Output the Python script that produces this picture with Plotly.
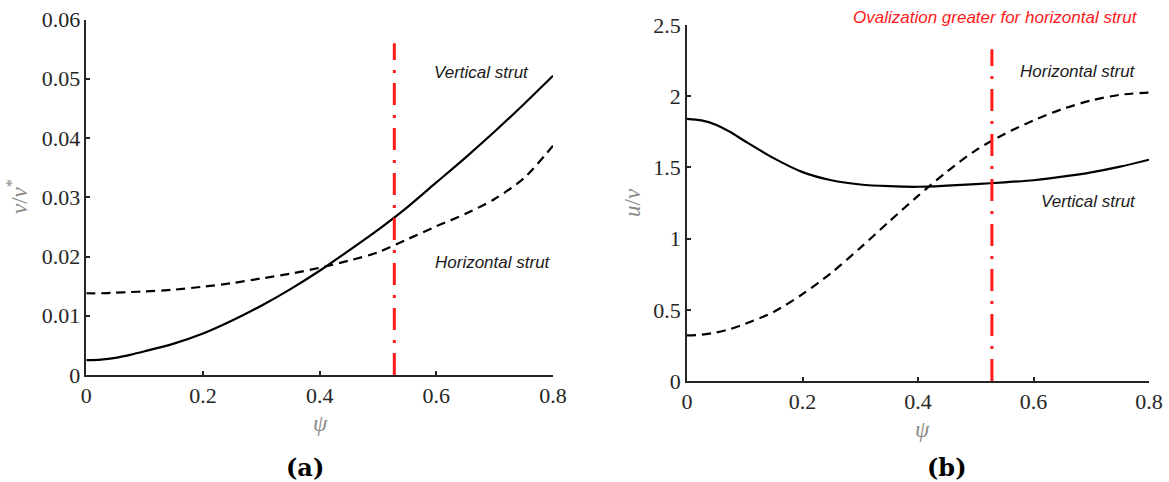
import plotly.graph_objects as go

# ---------------- data ----------------
psi = [0.0, 0.025, 0.05, 0.075, 0.1, 0.15, 0.2, 0.25, 0.3, 0.35, 0.4, 0.45, 0.5, 0.55, 0.6, 0.65, 0.7, 0.75, 0.8]

# panel (a): v/v*
a_vertical = [0.0025, 0.0026, 0.0029, 0.0034, 0.0040, 0.0053, 0.0070, 0.0092, 0.0117, 0.0145, 0.0176,
              0.0210, 0.0245, 0.0283, 0.0325, 0.0367, 0.0411, 0.0457, 0.0505]
a_horizontal = [0.0138, 0.0138, 0.0139, 0.0140, 0.0141, 0.0144, 0.0149, 0.0155, 0.0163, 0.0171, 0.0181,
                0.0193, 0.0207, 0.0229, 0.0251, 0.0272, 0.0297, 0.0332, 0.0387]

# panel (b): u/v
b_vertical = [1.841, 1.83, 1.80, 1.748, 1.685, 1.565, 1.467, 1.41, 1.38, 1.368, 1.364,
              1.372, 1.383, 1.395, 1.41, 1.435, 1.465, 1.505, 1.554]
b_horizontal = [0.32, 0.325, 0.34, 0.365, 0.40, 0.485, 0.61, 0.76, 0.935, 1.12, 1.30,
                1.47, 1.62, 1.735, 1.83, 1.91, 1.97, 2.01, 2.026]

psi_crit = [0.528, 0.528]
a_crit_y = [0.0, 0.056]
b_crit_y = [0.0, 2.33]

a_yticks = [0, 0.01, 0.02, 0.03, 0.04, 0.05, 0.06]
a_yticklabels = ["0", "0.01", "0.02", "0.03", "0.04", "0.05", "0.06"]
b_yticks = [0, 0.5, 1, 1.5, 2, 2.5]
b_yticklabels = ["0", "0.5", "1", "1.5", "2", "2.5"]
xticks = [0, 0.2, 0.4, 0.6, 0.8]
xticklabels = ["0", "0.2", "0.4", "0.6", "0.8"]

# ---------------- figure ----------------
W, H = 1169, 482
fig = go.Figure()

black = "#000000"
red = "#ff1a1a"

def add_curves(x, yv, yh, ycrit, xa, ya):
    fig.add_trace(go.Scatter(x=x, y=yv, mode="lines", line=dict(color=black, width=2.2, shape="spline", smoothing=0.8),
                             xaxis=xa, yaxis=ya, showlegend=False, hoverinfo="skip"))
    fig.add_trace(go.Scatter(x=x, y=yh, mode="lines",
                             line=dict(color=black, width=2.2, dash="9px,6px", shape="spline", smoothing=0.8),
                             xaxis=xa, yaxis=ya, showlegend=False, hoverinfo="skip"))
    fig.add_trace(go.Scatter(x=psi_crit, y=ycrit, mode="lines",
                             line=dict(color=red, width=3, dash="22px,10px,3px,10px"),
                             xaxis=xa, yaxis=ya, showlegend=False, hoverinfo="skip"))

add_curves(psi, a_vertical, a_horizontal, a_crit_y, "x", "y")
add_curves(psi, b_vertical, b_horizontal, b_crit_y, "x2", "y2")

axis_col = "#262626"
tickfont = dict(family="Liberation Serif", size=22, color="#262626")
common = dict(showgrid=False, zeroline=False, showline=True, linecolor=axis_col, linewidth=1.5,
              ticks="inside", ticklen=4, tickwidth=1.5, tickcolor=axis_col, tickfont=tickfont,
              mirror=False, automargin=False)

fig.update_layout(
    template=None,
    width=W, height=H,
    margin=dict(l=0, r=0, t=0, b=0, autoexpand=False),
    paper_bgcolor="white", plot_bgcolor="white",
    xaxis=dict(domain=[86.3 / W, 553 / W], range=[0, 0.8], tickvals=xticks, ticktext=xticklabels,
               anchor="y", **common),
    yaxis=dict(domain=[(H - 375) / H, (H - 19.5) / H], range=[0, 0.06], tickvals=a_yticks,
               ticktext=a_yticklabels, anchor="x", **common),
    xaxis2=dict(domain=[687 / W, 1149 / W], range=[0, 0.8], tickvals=xticks, ticktext=xticklabels,
                anchor="y2", **common),
    yaxis2=dict(domain=[(H - 381) / H, (H - 25) / H], range=[0, 2.5], tickvals=b_yticks,
                ticktext=b_yticklabels, anchor="x2", **common),
)

lab_font = dict(family="Liberation Sans", size=17, color="#1a1a1a")
ann = []
# in-plot labels
ann.append(dict(x=0.593, y=0.051, xref="x", yref="y", text="<i>Vertical strut</i>", showarrow=False,
                xanchor="left", yanchor="middle", font=lab_font))
ann.append(dict(x=0.594, y=0.019, xref="x", yref="y", text="<i>Horizontal strut</i>", showarrow=False,
                xanchor="left", yanchor="middle", font=lab_font))
ann.append(dict(x=0.573, y=2.177, xref="x2", yref="y2", text="<i>Horizontal strut</i>", showarrow=False,
                xanchor="left", yanchor="middle", font=lab_font))
ann.append(dict(x=0.609, y=1.264, xref="x2", yref="y2", text="<i>Vertical strut</i>", showarrow=False,
                xanchor="left", yanchor="middle", font=lab_font))
ann.append(dict(x=995 / W, y=(H - 18) / H, xref="paper", yref="paper",
                text="<i>Ovalization greater for horizontal strut</i>", showarrow=False,
                xanchor="center", yanchor="middle", font=dict(family="Liberation Sans", size=17, color=red)))

# axis titles
title_font = dict(family="Liberation Serif", size=23, color="#8a8a8a")
ann.append(dict(x=17 / W, y=(H - 197) / H, xref="paper", yref="paper", text="<i>v</i>/<i>v</i><sup>*</sup>",
                textangle=-90, showarrow=False, xanchor="center", yanchor="middle", font=title_font))
ann.append(dict(x=633 / W, y=(H - 203) / H, xref="paper", yref="paper", text="<i>u</i>/<i>v</i>",
                textangle=-90, showarrow=False, xanchor="center", yanchor="middle", font=title_font))
ann.append(dict(x=320 / W, y=(H - 423) / H, xref="paper", yref="paper", text="<i>ψ</i>",
                showarrow=False, xanchor="center", yanchor="middle", font=title_font))
ann.append(dict(x=922 / W, y=(H - 430) / H, xref="paper", yref="paper", text="<i>ψ</i>",
                showarrow=False, xanchor="center", yanchor="middle", font=title_font))

# panel captions
cap_font = dict(family="DejaVu Serif", size=24, color="#000000")
ann.append(dict(x=305 / W, y=(H - 467) / H, xref="paper", yref="paper", text="<b>(a)</b>",
                showarrow=False, xanchor="center", yanchor="middle", font=cap_font))
ann.append(dict(x=947 / W, y=(H - 467) / H, xref="paper", yref="paper", text="<b>(b)</b>",
                showarrow=False, xanchor="center", yanchor="middle", font=cap_font))

fig.update_layout(annotations=ann)
fig.write_html("out.html", config={"displayModeBar": False},
               post_script="document.body.style.margin='0px';document.body.style.padding='0px';")
